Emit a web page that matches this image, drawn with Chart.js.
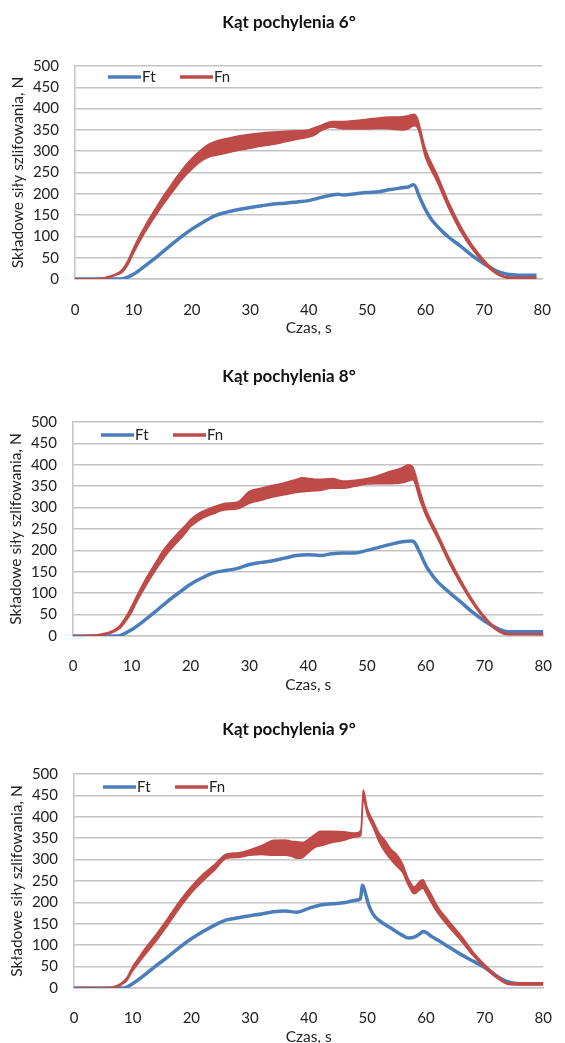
<!DOCTYPE html>
<html>
<head>
<meta charset="utf-8">
<script src="https://cdn.jsdelivr.net/npm/chart.js@4.4.1/dist/chart.umd.min.js"></script>
<style>
  html, body { margin: 0; padding: 0; background: #fff; overflow: hidden; }
  .box { position: absolute; left: 0; width: 565px; height: 350px; }
</style>
</head>
<body>
<div class="box" style="top:0"><canvas id="c6" width="565" height="350"></canvas></div>
<div class="box" style="top:350px"><canvas id="c8" width="565" height="350"></canvas></div>
<div class="box" style="top:700px"><canvas id="c9" width="565" height="350"></canvas></div>
<script>
// ---- data (time in s, force in N) ----
const titles = ['Kąt pochylenia 6°', 'Kąt pochylenia 8°', 'Kąt pochylenia 9°'];
const seriesNames = ['Ft', 'Fn'];
const xTicks = [0, 10, 20, 30, 40, 50, 60, 70, 80];
const yTicks = [0, 50, 100, 150, 200, 250, 300, 350, 400, 450, 500];

// 6 deg
const t6Ft = [0, 8, 8.6, 10, 12, 14, 16, 18, 20, 22, 24, 26, 28, 30, 32, 34, 36, 38, 40, 42, 44, 45, 46, 48, 50, 52, 54, 56, 57, 58, 59, 60, 61, 62, 63, 64, 66, 68, 70, 72, 74, 76, 79];
const ft6  = [0, 0, 2, 11, 31, 52, 75, 97, 117, 134, 149, 157, 163, 168, 172, 176, 178, 181, 184, 191, 197, 199, 197, 200, 203, 205, 210, 214, 216, 221, 192, 163, 140, 124, 110, 98, 77, 55, 36, 20, 11, 9, 9];
const t6Fn  = [0, 4, 5, 6, 7, 8, 9, 10, 11, 12, 13, 14, 15, 16, 17, 18, 19, 20, 21, 22, 23, 24, 26, 28, 30, 32, 34, 36, 38, 40, 41, 42, 43, 44, 46, 48, 50, 52, 54, 56, 57, 58, 58.6, 60, 62, 64, 66, 68, 70, 72, 74, 76, 79];
const fnHi6 = [0, 1, 3, 7, 12, 21, 42, 72, 100, 125, 148, 170, 192, 212, 232, 250, 268, 283, 296, 308, 317, 323, 330, 336, 340, 343, 345, 347, 348, 350, 355, 360, 366, 370, 370, 372, 375, 378, 380, 381, 383, 387, 378, 305, 245, 180, 125, 80, 45, 18, 5, 4, 4];
const fnLo6 = [0, 0, 1, 4, 9, 15, 32, 60, 86, 110, 132, 153, 173, 192, 210, 228, 244, 258, 270, 280, 287, 290, 296, 302, 307, 312, 316, 322, 328, 333, 338, 347, 353, 357, 352, 352, 352, 353, 352, 350, 352, 360, 356, 285, 228, 165, 112, 70, 37, 13, 2, 1, 1];

// 8 deg
const t8Ft = [0, 7.5, 8, 10, 12, 14, 16, 18, 20, 22, 24, 26, 28, 30, 32, 34, 36, 38, 40, 42, 44, 46, 48, 50, 52, 54, 56, 57.5, 58, 59, 60, 61, 62, 64, 66, 68, 70, 72, 74, 76, 80];
const ft8  = [0, 0, 1, 15, 35, 57, 80, 101, 121, 136, 148, 153, 158, 167, 172, 176, 182, 188, 190, 188, 192, 194, 194, 200, 207, 214, 220, 222, 220, 195, 165, 144, 127, 102, 79, 55, 35, 19, 10, 10, 10];
const t8Fn  = [0, 4, 6, 7, 8, 9, 10, 11, 12, 13, 14, 15, 16, 17, 18, 19, 20, 21, 22, 23, 24, 25, 26, 28, 30, 32, 34, 36, 38, 39, 40, 42, 44, 46, 48, 50, 52, 54, 56, 57, 57.8, 59, 60, 62, 64, 66, 68, 70, 72, 74, 76, 80];
const fnHi8 = [0, 3, 8, 14, 25, 45, 70, 98, 124, 148, 170, 193, 212, 228, 243, 257, 272, 283, 291, 297, 302, 307, 310, 313, 338, 345, 352, 358, 366, 370, 368, 366, 368, 362, 364, 368, 375, 385, 393, 400, 395, 340, 298, 240, 182, 130, 84, 46, 18, 6, 5, 5];
const fnLo8 = [0, 1, 5, 10, 18, 35, 56, 84, 108, 131, 153, 173, 192, 208, 223, 238, 256, 266, 275, 281, 286, 292, 295, 297, 310, 317, 325, 330, 335, 337, 338, 340, 345, 345, 350, 355, 356, 356, 358, 362, 365, 318, 282, 228, 170, 120, 76, 40, 14, 3, 3, 3];

// 9 deg
const t9Ft = [0, 8.5, 9, 10, 12, 14, 16, 18, 20, 22, 24, 26, 28, 30, 32, 34, 36, 38, 40, 42, 44, 46, 48, 48.8, 49.2, 49.6, 50.2, 51, 52, 54, 56, 57, 58, 59, 59.5, 60, 61, 62, 64, 66, 68, 70, 72, 74, 75, 76, 80];
const ft9  = [0, 0, 2, 10, 30, 52, 73, 95, 115, 132, 147, 159, 164, 169, 173, 178, 180, 177, 186, 194, 197, 199, 205, 208, 240, 225, 195, 172, 158, 140, 123, 117, 119, 127, 132, 130, 120, 112, 95, 78, 63, 48, 28, 14, 11, 10, 10];
const t9Fn  = [0, 6, 7, 8, 9, 10, 11, 12, 14, 16, 18, 20, 22, 24, 26, 28, 30, 32, 34, 36, 37, 38, 39, 40, 41, 42, 44, 46, 48, 48.9, 49.3, 50, 51, 52, 53, 54, 55, 56, 57, 58, 59, 59.5, 60, 61, 62, 64, 66, 68, 70, 72, 74, 75, 80];
const fnHi9 = [0, 1, 4, 11, 24, 50, 70, 90, 125, 163, 203, 237, 266, 289, 313, 316, 323, 333, 345, 346, 343, 342, 340, 348, 358, 366, 366, 365, 362, 368, 463, 420, 390, 362, 345, 325, 312, 290, 255, 236, 250, 253, 240, 216, 190, 155, 122, 85, 55, 31, 12, 12, 12];
const fnLo9 = [0, 0, 2, 7, 17, 40, 58, 76, 110, 147, 187, 222, 250, 276, 303, 305, 310, 312, 310, 310, 308, 303, 305, 317, 328, 332, 340, 345, 353, 356, 440, 405, 375, 342, 318, 300, 285, 270, 240, 220, 230, 233, 222, 197, 175, 141, 110, 76, 48, 24, 8, 7, 7];

// ---- look ----
const FONT = 'Lato, "DejaVu Sans", sans-serif';
const BLUE = '#4a7ebb';
const RED = '#be4b48';
const GRID = '#c4c4c4';
const INK = '#222222';
const TICK_SIZE = 15, AXIS_SIZE = 15.5, TITLE_SIZE = 17, LEGEND_SIZE = 15;

const pts = (xs, ys) => xs.map((x, i) => ({ x: x, y: ys[i] }));

// legend drawn inside the plot area, top-left
const insideLegend = {
  id: 'insideLegend',
  afterDatasetsDraw(chart, args, opts) {
    const { ctx, chartArea } = chart;
    const items = chart.data.datasets.filter(d => d.label);
    let x = chartArea.left + opts.x;
    const y = chartArea.top + opts.y;
    ctx.save();
    ctx.font = LEGEND_SIZE + 'px ' + FONT;
    ctx.textBaseline = 'middle';
    ctx.lineWidth = 3.5;
    items.forEach(d => {
      ctx.strokeStyle = d.borderColor;
      ctx.beginPath();
      ctx.moveTo(x, y);
      ctx.lineTo(x + 33, y);
      ctx.stroke();
      ctx.fillStyle = INK;
      ctx.fillText(d.label, x + 34, y);
      x += 72;
    });
    ctx.restore();
  }
};

// move the title so it is centred where the reference has it
const titleShift = {
  id: 'titleShift',
  afterLayout(chart, args, opts) {
    const tb = chart.titleBlock;
    if (tb && opts.center) {
      const w = tb.right - tb.left;
      tb.left = opts.center - w / 2;
      tb.right = opts.center + w / 2;
    }
  }
};

function makeChart(id, title, tFt, ft, tFn, fnHi, fnLo, L) {
  const H = 350, W = 565;
  const tickLH = TICK_SIZE * 1.2, axisLH = AXIS_SIZE * 1.2, titleLH = TITLE_SIZE * 1.2;
  new Chart(document.getElementById(id), {
    type: 'line',
    data: {
      datasets: [
        { label: seriesNames[0], data: pts(tFt, ft), borderColor: BLUE, borderWidth: 3.5,
          pointRadius: 0, fill: false, order: 3, cubicInterpolationMode: 'monotone' },
        { label: seriesNames[1], data: pts(tFn, fnHi), borderColor: RED, backgroundColor: RED,
          borderWidth: 1.5, pointRadius: 0, fill: '+1', order: 1, cubicInterpolationMode: 'monotone' },
        { label: '', data: pts(tFn, fnLo), borderColor: RED, borderWidth: 1.5,
          pointRadius: 0, fill: false, order: 2, cubicInterpolationMode: 'monotone' }
      ]
    },
    options: {
      responsive: false,
      animation: false,
      events: [],
      layout: { padding: { left: 0, top: 0, right: W - L.areaRight, bottom: H - (L.xTitleY + axisLH / 2) } },
      plugins: {
        legend: { display: false },
        tooltip: { enabled: false },
        title: {
          display: true, text: title, color: '#111',
          font: { family: FONT, size: TITLE_SIZE, weight: 'bold' },
          padding: { top: L.titleY - titleLH / 2, bottom: L.areaTop - L.titleY - titleLH / 2 }
        },
        insideLegend: { x: L.legX, y: L.legY },
        titleShift: { center: 289 }
      },
      scales: {
        x: {
          type: 'linear', min: 0, max: 80,
          afterBuildTicks: s => { s.ticks = xTicks.map(v => ({ value: v })); },
          afterFit: s => { s.height = L.xTitleY + axisLH / 2 - L.areaBottom; },
          grid: { display: false },
          border: { display: true, color: GRID, width: 1.5 },
          ticks: { color: INK, font: { family: FONT, size: TICK_SIZE }, padding: L.tickY - L.areaBottom - tickLH / 2, maxRotation: 0 },
          title: { display: true, text: 'Czas, s', color: INK, font: { family: FONT, size: AXIS_SIZE }, padding: 0 }
        },
        y: {
          min: 0, max: 500,
          afterBuildTicks: s => { s.ticks = yTicks.map(v => ({ value: v })); },
          afterFit: s => { s.width = L.areaLeft; },
          grid: { color: GRID, lineWidth: 1.5, drawTicks: false },
          border: { display: true, color: GRID, width: 1.5 },
          ticks: { color: INK, font: { family: FONT, size: TICK_SIZE }, padding: L.areaLeft - L.yLabelRight },
          title: { display: true, text: 'Składowe siły szlifowania, N', color: INK,
                   font: { family: FONT, size: AXIS_SIZE }, padding: { top: L.yTitleX - axisLH / 2, bottom: 0 } }
        }
      }
    },
    plugins: [insideLegend, titleShift]
  });
}

makeChart('c6', titles[0], t6Ft, ft6, t6Fn, fnHi6, fnLo6,
  { titleY: 23, areaTop: 66, areaBottom: 279, tickY: 302, xTitleY: 328, areaLeft: 75, areaRight: 551, yTitleX: 18, yLabelRight: 59, legX: 33, legY: 11 });
makeChart('c8', titles[1], t8Ft, ft8, t8Fn, fnHi8, fnLo8,
  { titleY: 27, areaTop: 72, areaBottom: 286, tickY: 308, xTitleY: 335, areaLeft: 73, areaRight: 552, yTitleX: 16, yLabelRight: 57, legX: 28, legY: 13 });
makeChart('c9', titles[2], t9Ft, ft9, t9Fn, fnHi9, fnLo9,
  { titleY: 30, areaTop: 74, areaBottom: 288, tickY: 310, xTitleY: 337, areaLeft: 74, areaRight: 557, yTitleX: 17, yLabelRight: 58, legX: 29, legY: 13 });
</script>
</body>
</html>
